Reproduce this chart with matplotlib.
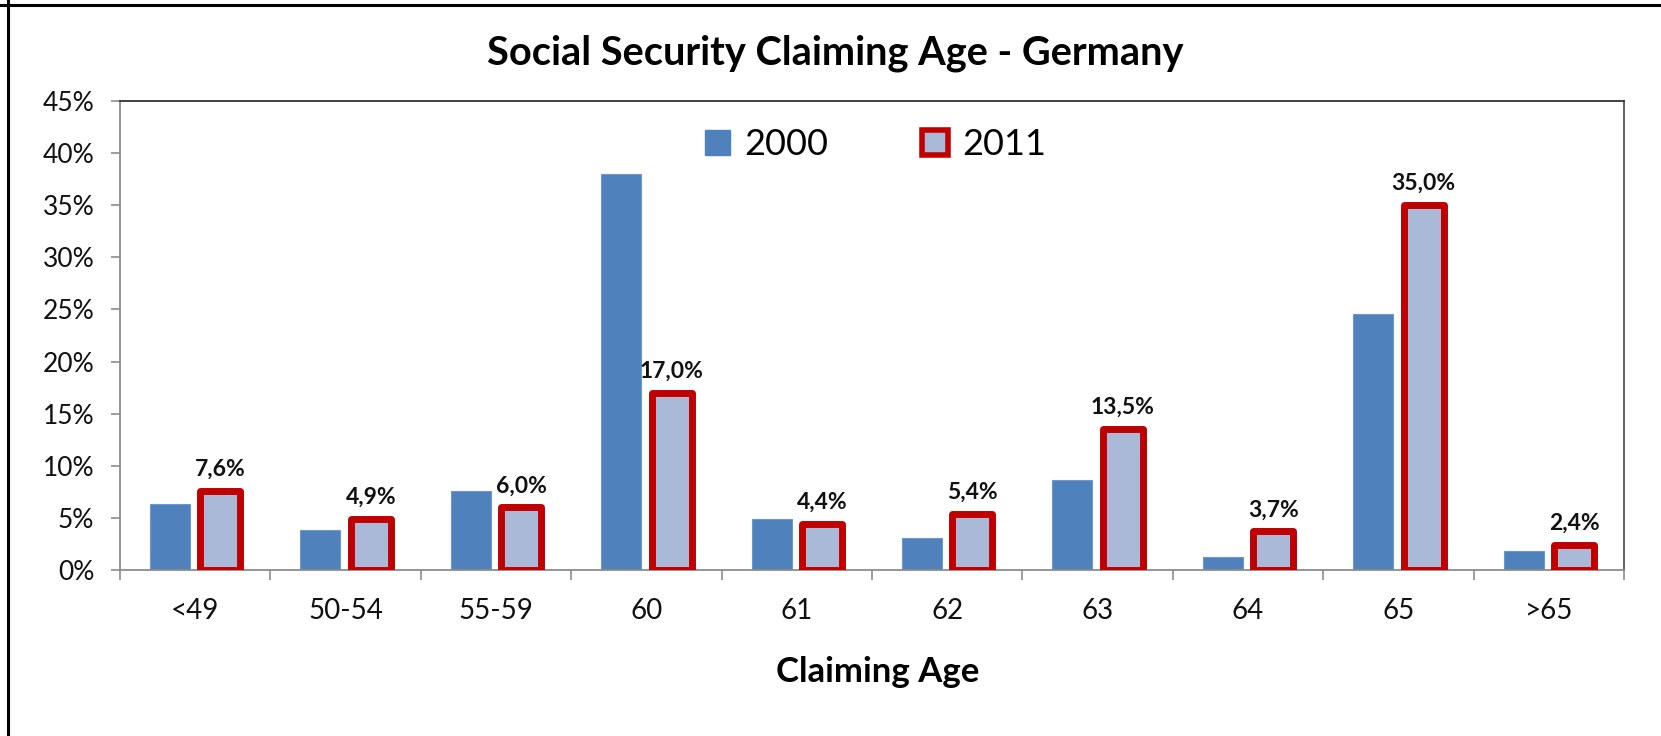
import matplotlib
matplotlib.use('Agg')
import matplotlib.pyplot as plt
from matplotlib.patches import Patch
from matplotlib.lines import Line2D
import numpy as np

plt.rcParams['font.family'] = ['Lato', 'DejaVu Sans']

AGES = ['<49', '50-54', '55-59', '60', '61', '62', '63', '64', '65', '>65']
Y2000 = [6.3, 3.8, 7.6, 38.0, 4.9, 3.1, 8.6, 1.2, 24.6, 1.8]
Y2011 = [7.6, 4.9, 6.0, 17.0, 4.4, 5.4, 13.5, 3.7, 35.0, 2.4]
YTICKS = [0, 5, 10, 15, 20, 25, 30, 35, 40, 45]

BLUE = '#4F81BD'
LIGHT = '#AAB9D7'
RED = '#C00000'


def main():
    fig = plt.figure(figsize=(16.61, 7.36), dpi=100)
    ax = fig.add_axes([120 / 1661, 1 - 570 / 736, 1504 / 1661, 469 / 736])

    x = np.arange(len(AGES))
    w = 0.266
    off = 0.168
    ax.bar(x - off, Y2000, w, color=BLUE, edgecolor='#6E98CB', linewidth=0.8, zorder=2)
    bars = ax.bar(x + off, Y2011, w, color=LIGHT, edgecolor=RED, linewidth=5, zorder=3)
    for b in bars:
        b.set_joinstyle('round')

    for xi, v in zip(x, Y2011):
        ax.annotate(('%.1f%%' % v).replace('.', ','), (xi + off, v), xytext=(0, 8),
                    textcoords='offset points', ha='center', va='bottom',
                    fontsize=16.5, fontweight='bold', color='#111111')

    ax.set_xlim(-0.5, len(AGES) - 0.5)
    ax.set_ylim(0, 45)
    ax.set_yticks(YTICKS)
    ax.set_yticklabels(['%d%%' % t for t in YTICKS])
    ax.set_xticks(x)
    ax.set_xticklabels(AGES)
    ax.set_xticks(np.arange(len(AGES) + 1) - 0.5, minor=True)

    ax.tick_params(axis='y', length=6.5, width=1.2, color='#8C8C8C', pad=12,
                   labelsize=19, labelcolor='#111111')
    ax.tick_params(axis='x', which='major', length=0, pad=20,
                   labelsize=20, labelcolor='#111111')
    ax.tick_params(axis='x', which='minor', length=7, width=1.2, color='#8C8C8C')

    ax.spines['left'].set_color('#8C8C8C')
    ax.spines['bottom'].set_color('#8C8C8C')
    ax.spines['top'].set_color('#333333')
    ax.spines['right'].set_color('#555555')
    for s in ax.spines.values():
        s.set_linewidth(1.3)

    handles = [Patch(facecolor=BLUE, edgecolor=BLUE, label='2000'),
               Patch(facecolor=LIGHT, edgecolor=RED, linewidth=4, label='2011')]
    fig.legend(handles=handles, loc='center', bbox_to_anchor=(0.527, 0.803), ncol=2,
               frameon=False, fontsize=26, handlelength=0.7, handleheight=0.7,
               handletextpad=0.4, columnspacing=2.6)

    fig.text(0.5027, 1 - 65 / 736, 'Social Security Claiming Age - Germany',
             ha='center', va='baseline', fontsize=28.6, fontweight='bold')
    fig.text(878 / 1661, 1 - 682 / 736, 'Claiming Age', ha='center', va='baseline',
             fontsize=25, fontweight='bold')

    # outer frame (top and left only visible)
    fig.add_artist(Line2D([0, 1], [1 - 5 / 736] * 2, transform=fig.transFigure,
                          color='black', linewidth=2.2))
    fig.add_artist(Line2D([8 / 1661] * 2, [0, 1], transform=fig.transFigure,
                          color='black', linewidth=2.2))

    fig.savefig('out.png', dpi=100)


if __name__ == "__main__":
    main()
